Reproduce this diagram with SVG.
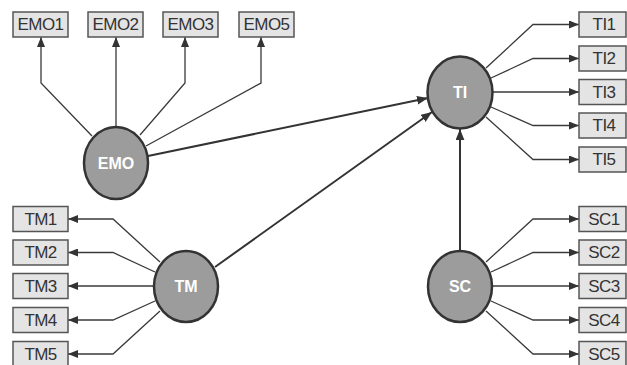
<svg xmlns="http://www.w3.org/2000/svg" width="627" height="365" viewBox="0 0 627 365">
<style>
.box{fill:#e4e4e4;stroke:#555;stroke-width:1.5}
.bt{font-family:"Liberation Sans",Arial,sans-serif;font-size:17px;letter-spacing:-0.6px;fill:#333;text-anchor:middle;dominant-baseline:central}
.lv{fill:#9c9c9c;stroke:#333;stroke-width:2.5}
.lt{font-family:"Liberation Sans",Arial,sans-serif;font-size:16px;font-weight:bold;fill:#fff;text-anchor:middle;dominant-baseline:central}
.ind{fill:none;stroke:#3a3a3a;stroke-width:1.3;marker-end:url(#ah)}
.str{fill:none;stroke:#333;stroke-width:2;marker-end:url(#ah2)}
</style>
<defs>
<marker id="ah" viewBox="0 0 10 8" refX="10" refY="4" markerWidth="10" markerHeight="8" markerUnits="userSpaceOnUse" orient="auto"><path d="M0,0 L10,4 L0,8 Z" fill="#333"/></marker>
<marker id="ah2" viewBox="0 0 10 8" refX="10" refY="4" markerWidth="11" markerHeight="9" markerUnits="userSpaceOnUse" orient="auto"><path d="M0,0 L10,4 L0,8 Z" fill="#333"/></marker>
</defs>
<g id="connectors">
<path class="ind" d="M92,136 L41,83 L41,37"/>
<path class="ind" d="M116,127 L116,37"/>
<path class="ind" d="M140,135 L185,83 L185,37"/>
<path class="ind" d="M146,146 L261,83 L261,37"/>
<path class="ind" d="M486,68 L533,24.5 L579,24.5"/>
<path class="ind" d="M491,78 L533,58.5 L579,58.5"/>
<path class="ind" d="M493,92 L579,92"/>
<path class="ind" d="M491,107 L533,125.5 L579,125.5"/>
<path class="ind" d="M486,117 L533,159.5 L579,159.5"/>
<path class="ind" d="M160,262 L113,219 L68,219"/>
<path class="ind" d="M155,272 L113,252.5 L68,252.5"/>
<path class="ind" d="M154,286 L68,286"/>
<path class="ind" d="M155,301 L113,320 L68,320"/>
<path class="ind" d="M160,311 L113,354 L68,354"/>
<path class="ind" d="M486,262 L533,219 L579,219"/>
<path class="ind" d="M491,272 L533,252.5 L579,252.5"/>
<path class="ind" d="M492,286 L579,286"/>
<path class="ind" d="M491,301 L533,320 L579,320"/>
<path class="ind" d="M486,311 L533,354 L579,354"/>
<path class="str" d="M148,156 L428,98"/>
<path class="str" d="M215,267 L432,112"/>
<path class="str" d="M460,251 L460,129"/>
</g>
<g id="EMO1"><rect class="box" x="13" y="12" width="55" height="25"/><text class="bt" x="40.5" y="24.5">EMO1</text></g>
<g id="EMO2"><rect class="box" x="88" y="12" width="55" height="25"/><text class="bt" x="115.5" y="24.5">EMO2</text></g>
<g id="EMO3"><rect class="box" x="163" y="12" width="55" height="25"/><text class="bt" x="190.5" y="24.5">EMO3</text></g>
<g id="EMO5"><rect class="box" x="239" y="12" width="55" height="25"/><text class="bt" x="266.5" y="24.5">EMO5</text></g>
<g id="TI1"><rect class="box" x="579" y="12" width="47" height="25"/><text class="bt" x="604" y="24.5">TI1</text></g>
<g id="TI2"><rect class="box" x="579" y="46" width="47" height="25"/><text class="bt" x="604" y="58.5">TI2</text></g>
<g id="TI3"><rect class="box" x="579" y="79.5" width="47" height="25"/><text class="bt" x="604" y="92">TI3</text></g>
<g id="TI4"><rect class="box" x="579" y="113" width="47" height="25"/><text class="bt" x="604" y="125.5">TI4</text></g>
<g id="TI5"><rect class="box" x="579" y="147" width="47" height="25"/><text class="bt" x="604" y="159.5">TI5</text></g>
<g id="TM1"><rect class="box" x="13" y="206.5" width="55" height="25"/><text class="bt" x="40.5" y="219">TM1</text></g>
<g id="TM2"><rect class="box" x="13" y="240" width="55" height="25"/><text class="bt" x="40.5" y="252.5">TM2</text></g>
<g id="TM3"><rect class="box" x="13" y="273.5" width="55" height="25"/><text class="bt" x="40.5" y="286">TM3</text></g>
<g id="TM4"><rect class="box" x="13" y="307.5" width="55" height="25"/><text class="bt" x="40.5" y="320">TM4</text></g>
<g id="TM5"><rect class="box" x="13" y="341.5" width="55" height="25"/><text class="bt" x="40.5" y="354">TM5</text></g>
<g id="SC1"><rect class="box" x="579" y="206.5" width="47" height="25"/><text class="bt" x="604" y="219">SC1</text></g>
<g id="SC2"><rect class="box" x="579" y="240" width="47" height="25"/><text class="bt" x="604" y="252.5">SC2</text></g>
<g id="SC3"><rect class="box" x="579" y="273.5" width="47" height="25"/><text class="bt" x="604" y="286">SC3</text></g>
<g id="SC4"><rect class="box" x="579" y="307.5" width="47" height="25"/><text class="bt" x="604" y="320">SC4</text></g>
<g id="SC5"><rect class="box" x="579" y="341.5" width="47" height="25"/><text class="bt" x="604" y="354">SC5</text></g>
<g id="EMO"><ellipse class="lv" cx="116" cy="163" rx="32" ry="36"/><text class="lt" x="116" y="163">EMO</text></g>
<g id="TI"><ellipse class="lv" cx="460" cy="92.5" rx="32.5" ry="36"/><text class="lt" x="460" y="92.5">TI</text></g>
<g id="TM"><ellipse class="lv" cx="186" cy="286.5" rx="32" ry="35.5"/><text class="lt" x="186" y="286.5">TM</text></g>
<g id="SC"><ellipse class="lv" cx="460" cy="286.5" rx="32" ry="35.5"/><text class="lt" x="460" y="286.5">SC</text></g>
</svg>
